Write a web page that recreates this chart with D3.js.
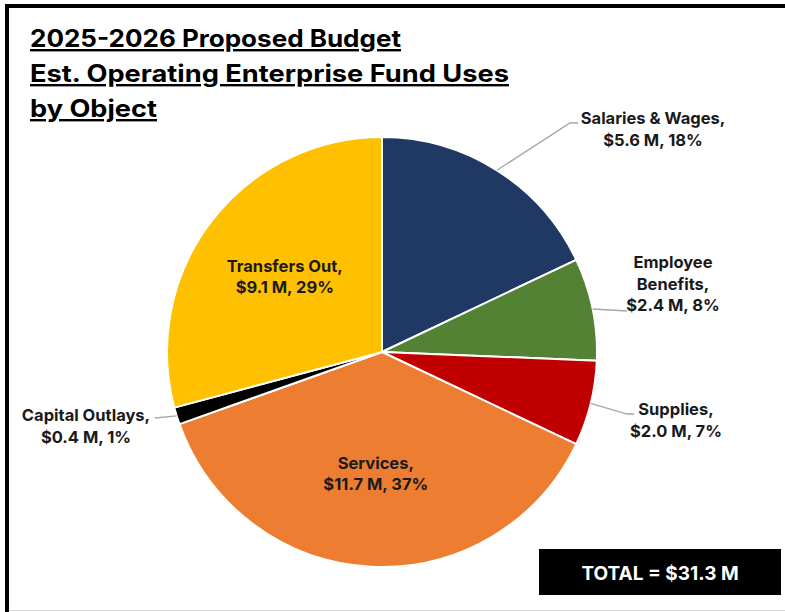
<!DOCTYPE html>
<html>
<head>
<meta charset="utf-8">
<script src="https://cdn.jsdelivr.net/npm/d3@7"></script>
<style>
  html, body { margin: 0; padding: 0; background: #fff; }
  svg { display: block; }
  text { font-family: Inter, "Open Sans", sans-serif; }
</style>
</head>
<body>
<div id="chart"></div>
<script>
// Budget uses by object, in millions of dollars
const categories = ["Salaries & Wages", "Employee\nBenefits", "Supplies", "Services", "Capital Outlays", "Transfers Out"];
const amounts = [5.6, 2.4, 2.0, 11.7, 0.4, 9.1];
const percents = [18, 8, 7, 37, 1, 29];
const colors = ["#1F3864", "#548235", "#C00000", "#ED7D31", "#000000", "#FFC000"];
const titleLines = ["2025-2026 Proposed Budget", "Est. Operating Enterprise Fund Uses", "by Object"];
const titleWidths = [371, 479, 127];
const totalLabel = "TOTAL = $31.3 M";

const W = 785, H = 612;
const cx = 382, cy = 352, R = 215;

// Label placement: inside labels sit on the slice centroid, outside ones use a leader line
const labelLayout = [
  { inside: false, x: 653, y: 124, elbow: [570, 123], end: [578, 123] },
  { inside: false, x: 673, y: 268, elbow: null, end: [627, 311] },
  { inside: false, x: 676, y: 415, elbow: [627, 414], end: [634, 414] },
  { inside: true },
  { inside: false, x: 86, y: 421, elbow: null, end: [155, 418] },
  { inside: true }
];

const svg = d3.select("#chart").append("svg")
  .attr("width", W).attr("height", H);

// Frame
svg.append("rect").attr("x", 0).attr("y", 0).attr("width", W).attr("height", H).attr("fill", "#fff");
svg.append("line").attr("x1", 5).attr("x2", W).attr("y1", 6).attr("y2", 6)
  .attr("stroke", "#000").attr("stroke-width", 4);
svg.append("line").attr("x1", 7).attr("x2", 7).attr("y1", 4).attr("y2", H)
  .attr("stroke", "#000").attr("stroke-width", 4);
svg.append("line").attr("x1", 9).attr("x2", W).attr("y1", 610.5).attr("y2", 610.5)
  .attr("stroke", "#d9d9d9").attr("stroke-width", 1);

// Title
const title = svg.append("g");
titleLines.forEach((t, i) => {
  title.append("text")
    .attr("x", 30).attr("y", 47 + i * 35)
    .attr("font-size", 24).attr("font-weight", 700).attr("fill", "#000")
    .attr("textLength", titleWidths[i]).attr("lengthAdjust", "spacingAndGlyphs")
    .style("text-decoration", "underline")
    .text(t);
});

// Pie
const data = categories.map((c, i) => ({ name: c, value: amounts[i], pct: percents[i], color: colors[i], layout: labelLayout[i] }));
const pie = d3.pie().value(d => d.value).sort(null).startAngle(0).endAngle(2 * Math.PI);
const arcs = pie(data);
const arc = d3.arc().innerRadius(0).outerRadius(R);
const labelArc = d3.arc().innerRadius(R * 0.57).outerRadius(R * 0.57);

const g = svg.append("g").attr("transform", `translate(${cx},${cy})`);
g.selectAll("path.slice").data(arcs).join("path")
  .attr("class", "slice")
  .attr("d", arc)
  .attr("fill", d => d.data.color)
  .attr("stroke", "#fff").attr("stroke-width", 2).attr("stroke-linejoin", "round");

// Leader lines
arcs.forEach(a => {
  const L = a.data.layout;
  if (L.inside) return;
  const mid = (a.startAngle + a.endAngle) / 2;
  const p0 = [cx + R * Math.sin(mid), cy - R * Math.cos(mid)];
  const pts = [p0];
  if (L.elbow) pts.push(L.elbow);
  pts.push(L.end);
  svg.append("path")
    .attr("d", d3.line()(pts))
    .attr("fill", "none").attr("stroke", "#A6A6A6").attr("stroke-width", 1.3);
});

// Data labels
arcs.forEach(a => {
  const d = a.data, L = d.layout;
  const lines = d.name.split("\n");
  lines[lines.length - 1] += ",";
  lines.push(`$${d.value.toFixed(1)} M, ${d.pct}%`);
  let x, y0;
  if (L.inside) {
    const c = labelArc.centroid(a);
    x = cx + c[0];
    y0 = cy + c[1] - (lines.length - 1) * 21 / 2 + 5;
  } else {
    x = L.x; y0 = L.y;
  }
  const t = svg.append("text")
    .attr("text-anchor", "middle")
    .attr("font-size", 16.5).attr("font-weight", 700).attr("fill", "#1a1a1a");
  lines.forEach((ln, i) => {
    t.append("tspan").attr("x", x).attr("y", y0 + i * 21.5).text(ln);
  });
});

// Total box
svg.append("rect").attr("x", 539).attr("y", 549).attr("width", 242).attr("height", 46).attr("fill", "#000");
svg.append("text")
  .attr("x", 660).attr("y", 580)
  .attr("text-anchor", "middle")
  .attr("font-family", "Lato, 'Open Sans', sans-serif")
  .attr("font-size", 19).attr("font-weight", 700).attr("fill", "#fff")
  .text(totalLabel);
</script>
</body>
</html>
